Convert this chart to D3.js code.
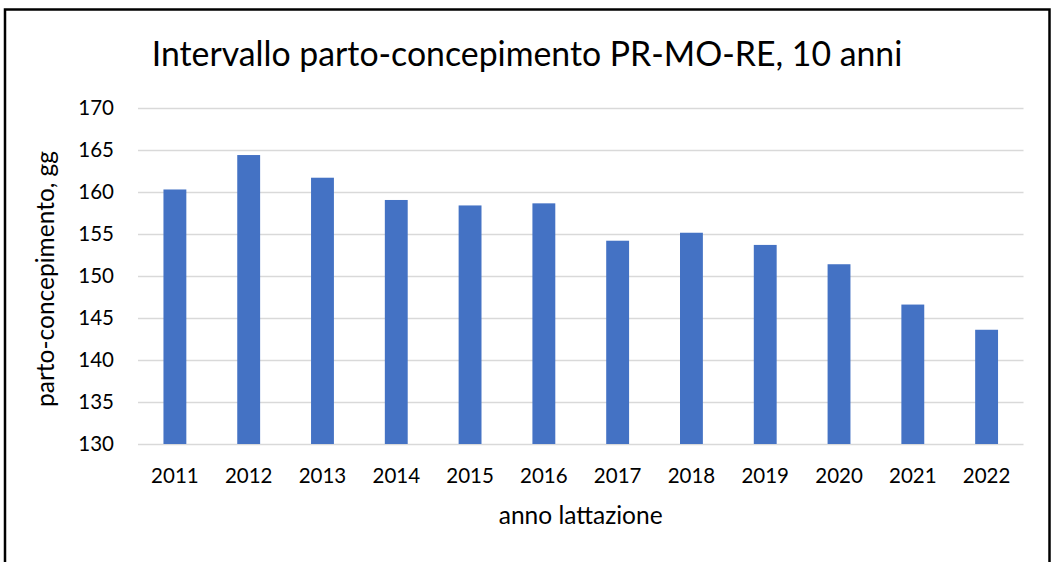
<!DOCTYPE html>
<html>
<head>
<meta charset="utf-8">
<script src="https://cdn.jsdelivr.net/npm/d3@7"></script>
<style>
  body { margin: 0; background: #fff; }
  svg text { font-family: Lato, "Noto Sans", sans-serif; fill: #000; }
</style>
</head>
<body>
<div id="wrapper"></div>
<script>
// dati
const anni = ['2011','2012','2013','2014','2015','2016','2017','2018','2019','2020','2021','2022'];
const giorni = [160.3, 164.4, 161.7, 159.05, 158.4, 158.65, 154.2, 155.15, 153.7, 151.4, 146.6, 143.6];
const yTicks = [130, 135, 140, 145, 150, 155, 160, 165, 170];

const titolo = 'Intervallo parto-concepimento PR-MO-RE, 10 anni';
const titoloX = 'anno lattazione';
const titoloY = 'parto-concepimento, gg';

const W = 1057, H = 562;

let svg = d3.select('#wrapper')
  .append('svg')
  .attr('width', W)
  .attr('height', H);

svg.append('rect')
  .attr('width', W).attr('height', H)
  .attr('fill', '#fff');

// cornice
svg.append('rect')
  .attr('x', 5).attr('y', 9.5)
  .attr('width', 1044.5).attr('height', 570)
  .attr('fill', 'none')
  .attr('stroke', '#000')
  .attr('stroke-width', 2.5);

let xscale = d3.scaleBand()
  .domain(anni)
  .range([138, 1023.5])
  .paddingInner(0.69)
  .paddingOuter(0.345);

let yscale = d3.scaleLinear()
  .domain([130, 170])
  .range([444, 108]);

// griglia
let yAxis = d3.axisLeft(yscale)
  .tickValues(yTicks)
  .tickSize(-(1023.5 - 138))
  .tickPadding(24)
  .tickFormat(d3.format('d'));

let gy = svg.append('g')
  .attr('transform', 'translate(138,0)')
  .call(yAxis);
gy.select('.domain').remove();
gy.selectAll('.tick line')
  .attr('stroke', '#d9d9d9')
  .attr('stroke-width', 1.5);
gy.selectAll('.tick text')
  .style('font-size', '20.5px')
  .attr('fill', '#000');

// barre
svg.append('g')
  .selectAll('rect')
  .data(giorni)
  .enter()
  .append('rect')
  .attr('x', (d, i) => xscale(anni[i]))
  .attr('y', d => yscale(d))
  .attr('width', xscale.bandwidth())
  .attr('height', d => yscale(130) - yscale(d))
  .attr('fill', '#4472c4');

let xAxis = d3.axisBottom(xscale)
  .tickSize(0)
  .tickPadding(0);

let gx = svg.append('g')
  .attr('transform', 'translate(0,444)')
  .call(xAxis);
gx.select('.domain').remove();
gx.selectAll('.tick text')
  .attr('dy', null)
  .attr('y', 38.7)
  .style('font-size', '20.5px')
  .attr('fill', '#000');

svg.append('text')
  .attr('x', 527)
  .attr('y', 66)
  .attr('text-anchor', 'middle')
  .style('font-size', '33.8px')
  .text(titolo);

svg.append('text')
  .attr('x', 580.7)
  .attr('y', 524)
  .attr('text-anchor', 'middle')
  .style('font-size', '24.5px')
  .text(titoloX);

svg.append('text')
  .attr('transform', 'translate(54,279) rotate(-90)')
  .attr('text-anchor', 'middle')
  .style('font-size', '24.5px')
  .text(titoloY);
</script>
</body>
</html>
